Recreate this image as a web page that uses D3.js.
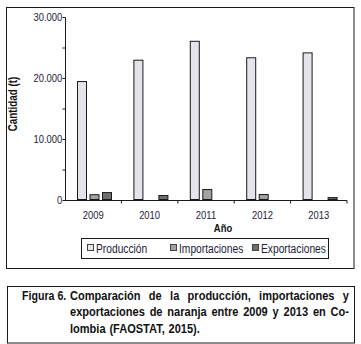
<!DOCTYPE html>
<html><head><meta charset="utf-8">
<script src="https://cdn.jsdelivr.net/npm/d3@7/dist/d3.min.js"></script>
<style>
html,body{margin:0;padding:0;background:#fff;}
svg{display:block;font-family:"Liberation Sans",Arial,sans-serif;}
</style></head>
<body><svg id="c" width="361" height="344"></svg>
<script>
const years = ["2009","2010","2011","2012","2013"];
const seriesNames = ["Producción","Importaciones","Exportaciones"];
const produccion = [19500, 23000, 26100, 23400, 24200];
const importaciones = [950, 150, 1800, 980, 120];
const exportaciones = [1300, 820, 100, 20, 480];
const yTicks = [0, 5000, 10000, 15000, 20000, 25000, 30000];
const yLabelTicks = [0, 10000, 20000, 30000];
const colors = ["#e7e3ea", "#a2a2a2", "#6f6f6f"];
const captionLabel = "Figura 6.";
const captionLines = [
  "Comparación de la producción, importaciones y",
  "exportaciones de naranja entre 2009 y 2013 en Co-",
  "lombia (FAOSTAT, 2015)."
];

const N = 0.82; // horizontal condensing to mimic a narrow face
const NC = 0.85; // caption condensing
const svg = d3.select("#c");
const ink = "#1a1a1a";
const txt = "#1c1c38";
const locale = d3.formatLocale({decimal:",", thousands:".", grouping:[3], currency:["",""]});
const fmt = locale.format(",d");

function narrowText(parent, x, y, str, opts){
  const n = opts.n || N;
  const g = parent.append("g").attr("transform",`translate(${x},${y})${opts.rotate?` rotate(${opts.rotate})`:""} scale(${n},1)`);
  return g.append("text").attr("x",0).attr("y",0)
    .attr("text-anchor",opts.anchor||"start")
    .attr("font-size",opts.size||11.5)
    .attr("font-weight",opts.bold?"bold":"normal")
    .attr("fill",opts.fill||txt).text(str);
}

// outer frame
svg.append("rect").attr("x",6.5).attr("y",7.5).attr("width",347.5).attr("height",261)
  .attr("fill","none").attr("stroke",ink).attr("stroke-width",1);

const x = d3.scaleBand().domain(years).range([65,347]).padding(0);
const inner = d3.scaleBand().domain(seriesNames).range([12,47]).paddingInner(0.2).paddingOuter(0);
const y = d3.scaleLinear().domain([0,30000]).range([200,17]);

const data = [produccion, importaciones, exportaciones];

// bars
seriesNames.forEach((s,si)=>{
  svg.append("g").selectAll("rect").data(years).join("rect")
    .attr("x",(d)=>x(d)+inner(s)+0.5)
    .attr("y",(d,i)=>y(data[si][i])+0.5)
    .attr("width",inner.bandwidth()-1)
    .attr("height",(d,i)=>Math.max(0,y(0)-y(data[si][i])-1))
    .attr("fill",colors[si])
    .attr("stroke",ink).attr("stroke-width",1);
});

// y axis
const yAxis = d3.axisLeft(y).tickValues(yTicks).tickSize(3).tickPadding(1)
  .tickFormat(d=> yLabelTicks.includes(d) ? fmt(d) : "");
const gy = svg.append("g").attr("transform","translate(65.5,0)").call(yAxis);
gy.select(".domain").attr("stroke",ink).attr("d","M0,17.5V200.5");
gy.selectAll(".tick line").attr("stroke",ink);
gy.selectAll(".tick text").attr("fill",txt).attr("font-size",11.5).attr("font-family",null)
  .attr("transform",`scale(${N},1)`);

// x axis
const xAxis = d3.axisBottom(x).tickSize(0).tickPadding(8);
const gx = svg.append("g").attr("transform","translate(0,200.5)").call(xAxis);
gx.select(".domain").attr("stroke",ink).attr("d","M65,0H347");
gx.selectAll(".tick text").attr("fill",txt).attr("font-size",11.5).attr("font-family",null)
  .attr("dy","0.95em").attr("transform",`scale(${N},1)`);
gx.append("g").selectAll("line").data(years.slice(1).concat(["end"])).join("line")
  .attr("x1",(d)=> d==="end" ? 347 : x(d)).attr("x2",(d)=> d==="end" ? 347 : x(d))
  .attr("y1",0).attr("y2",3).attr("stroke",ink);

// axis titles
narrowText(svg, 17, 104, "Cantidad (t)", {rotate:-90, anchor:"middle", bold:true, size:12, fill:"#111"});
narrowText(svg, 223, 232, "Año", {anchor:"middle", bold:true, size:11.5, fill:"#111"});

// legend
svg.append("rect").attr("x",81.5).attr("y",238.5).attr("width",247).attr("height",20)
  .attr("fill","none").attr("stroke",ink);
const legX = [87, 170, 252];
seriesNames.forEach((s,i)=>{
  svg.append("rect").attr("x",legX[i]+0.5).attr("y",244.5).attr("width",6).attr("height",6)
    .attr("fill",colors[i]).attr("stroke","#444");
  narrowText(svg, legX[i]+9, 252.5, s, {size:12.5});
});

// caption box
svg.append("rect").attr("x",7.5).attr("y",286.5).attr("width",347).attr("height",56.5)
  .attr("fill","none").attr("stroke",ink);
narrowText(svg, 22, 299.5, captionLabel, {bold:true, size:12.5, fill:"#111", n:NC});

const capLeft = 70, capRight = 349, baseY = [299.5, 316, 332.5];
captionLines.forEach((line,li)=>{
  const g = svg.append("g").attr("transform",`translate(${capLeft},${baseY[li]}) scale(${NC},1)`);
  const words = line.split(" ");
  const t = g.selectAll("text").data(words).join("text")
    .attr("y",0).attr("font-weight","bold").attr("font-size",13)
    .attr("fill","#111").text(d=>d);
  const widths = [];
  t.each(function(){ widths.push(this.getComputedTextLength()); });
  const total = d3.sum(widths);
  const avail = (capRight-capLeft)/NC;
  const justify = li < captionLines.length-1;
  const gap = justify ? (avail-total)/(words.length-1) : 4.5;
  let cx = 0;
  t.each(function(d,i){ d3.select(this).attr("x",cx); cx += widths[i]+gap; });
});
</script></body></html>
